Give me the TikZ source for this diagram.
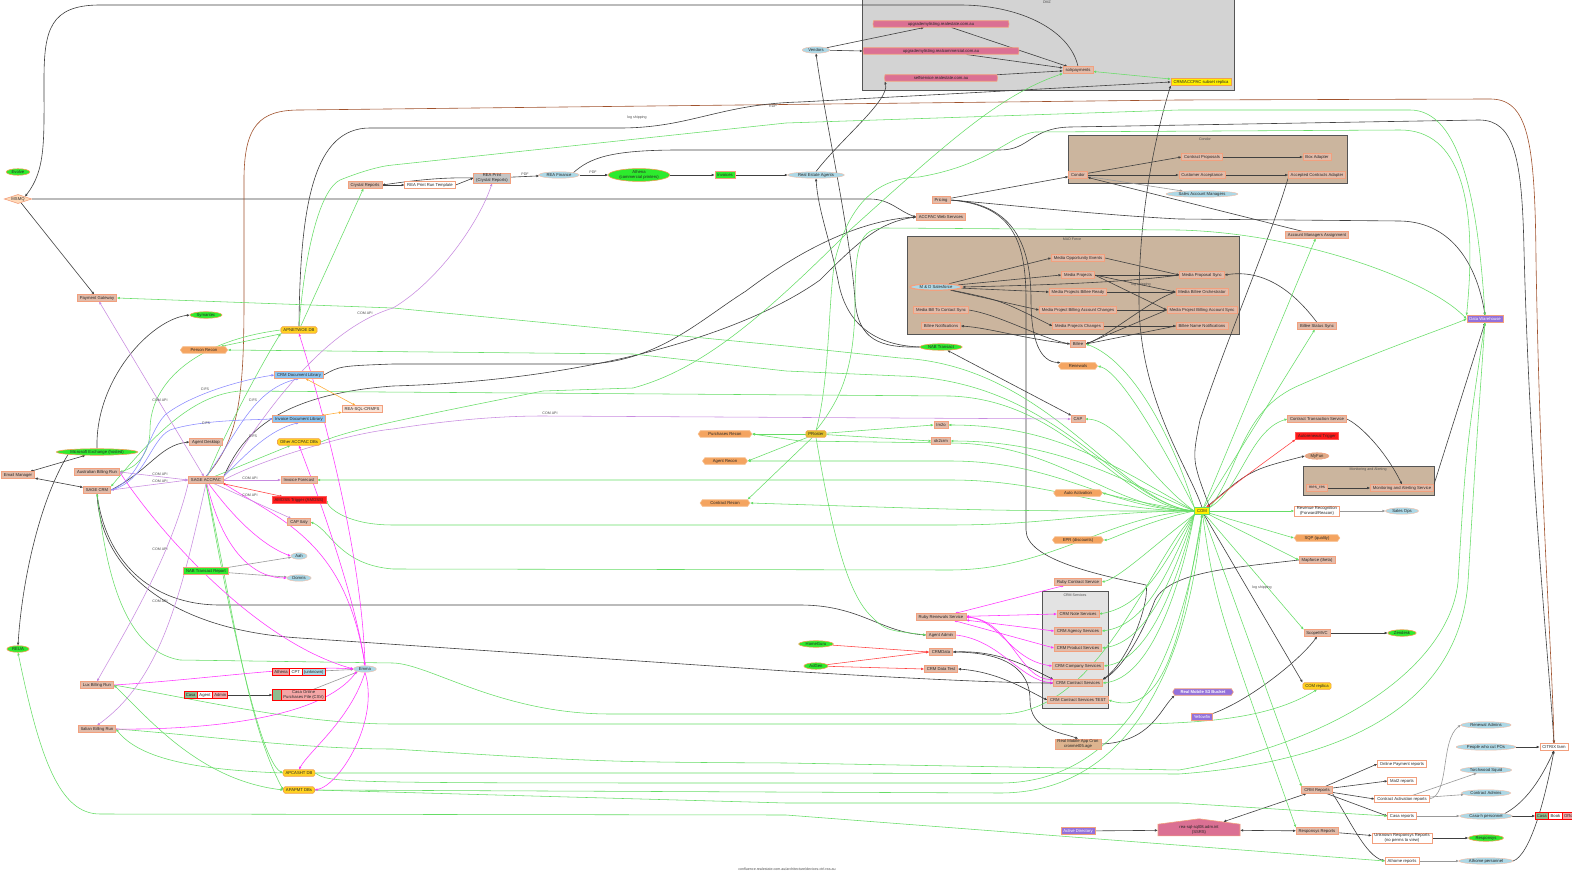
\documentclass[tikz,border=0pt]{standalone}
\usepackage{fontspec}
\setmainfont{Liberation Sans}
\usetikzlibrary{arrows.meta,shapes.geometric,shapes.symbols,shapes.multipart}
\pgfdeclarelayer{bg}
\pgfdeclarelayer{edgel}
\pgfsetlayers{bg,edgel,main}
\definecolor{salB}{HTML}{F2A07E}
\definecolor{peachF}{HTML}{E2BBA9}
\definecolor{peachL}{HTML}{FBE3D6}
\definecolor{silverF}{HTML}{C4C4C4}
\definecolor{limeF}{HTML}{2DEB2D}
\definecolor{skyF}{HTML}{8CC4F0}
\definecolor{lblueF}{HTML}{ADD8E6}
\definecolor{redF}{HTML}{FF1A1A}
\definecolor{redB}{HTML}{FF5555}
\definecolor{yelF}{HTML}{FFEE00}
\definecolor{goldF}{HTML}{FFD21F}
\definecolor{prosF}{HTML}{E2C02A}
\definecolor{orangeB}{HTML}{F0A050}
\definecolor{purpF}{HTML}{9370DB}
\definecolor{hexF}{HTML}{F4A460}
\definecolor{hexB}{HTML}{F8BC88}
\definecolor{pinkF}{HTML}{DB7093}
\definecolor{puffF}{HTML}{FFDAB9}
\definecolor{tanC}{HTML}{CBB59E}
\definecolor{grayC}{HTML}{D3D3D3}
\definecolor{svcC}{HTML}{E3E3E3}
\definecolor{clB}{HTML}{555555}
\definecolor{geC}{HTML}{66DD66}
\definecolor{meC}{HTML}{FF33FF}
\definecolor{peC}{HTML}{C88AE0}
\definecolor{bleC}{HTML}{8A8AFF}
\definecolor{oeC}{HTML}{FFAA33}
\definecolor{reC}{HTML}{FF4040}
\definecolor{brC}{HTML}{A0522D}
\definecolor{cronF}{HTML}{DDB48F}
\definecolor{funF}{HTML}{DEAA88}
\definecolor{casaG}{HTML}{8FBC8F}
\definecolor{casaP}{HTML}{F4A6A6}
\definecolor{athP}{HTML}{E9A0A0}
\tikzset{
 base/.style={font=\fontsize{4.2}{4.7}\selectfont, inner xsep=2.5pt, inner ysep=0.8pt, minimum height=6.5pt, line width=0.6pt, align=center, text=black!85},
 box/.style={base, rectangle, draw=salB, fill=peachF},
 wbox/.style={base, rectangle, draw=salB, fill=white},
 gbox/.style={base, rectangle, draw=salB, fill=limeF},
 graybox/.style={base, rectangle, draw=salB, fill=silverF},
 bbox/.style={base, rectangle, draw=salB, fill=skyF},
 rbox/.style={base, rectangle, draw=redB, fill=redF},
 ybox/.style={base, rectangle, draw=orangeB, fill=yelF},
 gold/.style={base, rectangle, rounded corners=1.5pt, draw=orangeB, fill=goldF},
 pbox/.style={base, rectangle, draw=salB, fill=purpF, text=white},
 ell/.style={base, ellipse, draw=salB!70, fill=lblueF, inner xsep=2pt, inner ysep=0.2pt, line width=0.4pt},
 gell/.style={base, ellipse, draw=orangeB, fill=limeF, inner xsep=2pt, inner ysep=0.2pt},
 hexa/.style={base, signal, signal to=east and west, signal pointer angle=110, draw=hexB, fill=hexF, inner xsep=8pt, inner ysep=1.2pt},
 pinkn/.style={base, signal, signal to=east and west, signal pointer angle=160, draw=salB, fill=pinkF, inner ysep=0.6pt},
 recn/.style={base, rectangle split, rectangle split horizontal, draw=red, line width=0.9pt, inner xsep=1.5pt},
 lbl/.style={font=\fontsize{3.6}{4}\selectfont, text=black!70, inner sep=0.5pt},
 tipA/.style={-{Triangle[length=2.8pt,width=2.2pt]}},
 tipB/.style={{Triangle[length=2.8pt,width=2.2pt]}-{Triangle[length=2.8pt,width=2.2pt]}},
 be/.style={tipA, draw=black!75, line width=0.6pt},
 gre/.style={tipA, draw=black!40, line width=0.6pt},
 ge/.style={tipA, draw=geC, line width=0.55pt},
 me/.style={tipA, draw=meC, line width=0.55pt},
 pe/.style={tipA, draw=peC, line width=0.55pt},
 ble/.style={tipA, draw=bleC, line width=0.55pt},
 oe/.style={tipA, draw=oeC, line width=0.55pt},
 re/.style={tipA, draw=reC, line width=0.55pt},
 bre/.style={tipA, draw=brC, line width=0.6pt},
 clus/.style={draw=clB, line width=0.8pt},
}
\begin{document}
\begin{tikzpicture}[x=1pt,y=-1pt]
\useasboundingbox (0,0) rectangle (1572,874);
% clusters
\begin{pgfonlayer}{bg}
\fill[white] (0,0) rectangle (1572,874);
\draw[clus, fill=grayC] (862,-5) rectangle (1234,90);
\draw[clus, fill=tanC] (1068,135) rectangle (1347,183);
\draw[clus, fill=tanC] (907,236) rectangle (1239,334);
\draw[clus, fill=tanC] (1303,466) rectangle (1434,495);
\draw[clus, fill=svcC] (1042,591) rectangle (1108,708);
\end{pgfonlayer}
\node[lbl] (dmzl) at (1047,2) {DMZ};
\node[lbl] (condorl) at (1205,139) {Condor};
\node[lbl] (madl) at (1072,239) {MAD Force};
\node[lbl] (monl) at (1368,470) {Monitoring and Alerting};
\node[lbl] (svcl) at (1075,595) {CRM Services};
% ---------- nodes: left
\node[gell] (evolve) at (18,172) {Evolve};
\node[base, diamond, aspect=3, draw=salB, fill=puffF, inner sep=0.4pt] (msmq) at (18,199) {MSMQ};
\node[box] (pg) at (97,298) {Payment Gateway};
\node[gell] (symantec) at (206,315) {Symantec};
\node[gold] (apnet) at (299,330) {APNETWOE DB};
\node[hexa] (precon2) at (204,350) {Person Recon};
\node[bbox] (crmdoc) at (299,375) {CRM Document Library};
\node[box, fill=peachL] (reasql) at (362,409) {REA-SQL-CRMFS};
\node[bbox] (invdoc) at (299,419) {Invoice Document Library};
\node[box] (agentdesk) at (206,442) {Agent Desktop};
\node[gold] (otheracc) at (299,442) {Other ACCPAC DBs};
\node[gell] (msx) at (97,452) {Microsoft Exchange (hosted)};
\node[box] (emailmgr) at (18,475) {Email Manager};
\node[box] (abr) at (97,472) {Australian Billing Run};
\node[box] (sagecrm) at (97,490) {SAGE CRM};
\node[box] (sageacc) at (206,480) {SAGE ACCPAC};
\node[box] (invfc) at (299,480) {Invoice Forecast};
\node[rbox] (amoss) at (299,500) {AMOSS Trigger (AMOSS)};
\node[box] (capitaly) at (299,522) {CAP Italy};
\node[ell] (aah) at (299,556) {Aah};
\node[ell] (domris) at (299,578) {Domris};
\node[gbox] (nabrep) at (206,571) {NAB Transact Report};
\node[gell] (reua) at (18,649) {REUA};
\node[box] (lux) at (97,685) {Lux Billing Run};
\node[box] (italian) at (97,729) {Italian Billing Run};
\node[ell] (emma) at (365,669) {Emma};
\node[recn, rectangle split parts=3, rectangle split part fill={athP,white,lblueF}] (athrec) at (299,672) {Athena\nodepart{two}CPT\nodepart{three}(unknown)};
\node[recn, rectangle split parts=3, rectangle split part fill={casaG,white,casaP}] (casarec) at (206,695) {Casa\nodepart{two}Agent\nodepart{three}Admin};
\node[recn, rectangle split parts=2, rectangle split part fill={casaG,casaP}] (casaonline) at (299,695) {\hspace{6pt}\nodepart{two}Casa Online\\Purchases File (CSV)};
\node[gold] (apcash) at (299,773) {APCASHT DB};
\node[gold] (apapmt) at (299,790) {APAPMT DBs};
% ---------- nodes: top
\node[box] (crystal) at (365,185) {Crystal Reports};
\node[wbox] (rptemplate) at (430,185) {REA Print Run Template};
\node[graybox] (reaprint) at (492,178) {REA Print\\(Crystal Reports)};
\node[ell] (reafin) at (559,175) {REA Finance};
\node[gell] (athena) at (639,175) {Athena\\(commercial printers)};
\node[gbox] (invoices) at (725,175) {Invoices};
\node[ell] (reagents) at (816,175) {Real Estate Agents};
\node[ell] (vendors) at (816,50) {Vendors};
\node[pinkn, minimum width=136pt] (up1) at (941,24) {upgrademylisting.realestate.com.au};
\node[pinkn, minimum width=156pt] (up2) at (941,51) {upgrademylisting.realcommercial.com.au};
\node[pinkn, minimum width=113pt] (selfs) at (941,78) {selfservice.realestate.com.au};
\node[box] (solr) at (1078,70) {solrpayments};
\node[ybox] (replica) at (1201,82) {CRM/ACCPAC subset replica};
\node[box] (pricing) at (941,200) {Pricing};
\node[box] (aws) at (941,217) {ACCPAC Web Services};
\node[box] (condor) at (1078,175) {Condor};
\node[box] (cprop) at (1202,157) {Contract Proposals};
\node[box] (boxad) at (1317,157) {Box Adapter};
\node[box] (custacc) at (1202,175) {Customer Acceptance};
\node[box] (accad) at (1317,175) {Accepted Contracts Adapter};
\node[ell] (sam) at (1202,194) {Sales Account Managers};
\node[box] (ama) at (1317,235) {Account Managers Assignment};
% MAD Force
\node[box] (moe) at (1078,258) {Media Opportunity Events};
\node[box] (mp) at (1078,275) {Media Projects};
\node[ell, line width=1.2pt, draw=salB] (mds) at (936,287) {M \& D Salesforce};
\node[box] (mps) at (1202,275) {Media Proposal Sync};
\node[box] (mpbr) at (1078,292) {Media Projects Billee Ready};
\node[box] (mbo) at (1202,292) {Media Billee Orchestrator};
\node[box] (mbtcs) at (941,310) {Media Bill To Contact Sync};
\node[box] (mpbac) at (1078,310) {Media Project Billing Account Changes};
\node[box] (mpbas) at (1202,310) {Media Project Billing Account Sync};
\node[box] (bn) at (941,326) {Billee Notifications};
\node[box] (mpc) at (1078,326) {Media Projects Changes};
\node[box] (bnn) at (1202,326) {Billee Name Notifications};
\node[box] (billee) at (1078,344) {Billee};
\node[box] (bss) at (1317,326) {Billee Status Sync};
\node[pbox] (dw) at (1485,319) {Data Warehouse};
\node[gell] (nab) at (941,347) {NAB Transact};
\node[hexa] (renewals) at (1078,366) {Renewals};
\node[box] (cap) at (1078,419) {CAP};
\node[box] (im2o) at (941,425) {Im2o};
\node[box] (ok2crm) at (941,441) {ok2crm};
\node[gold, fill=prosF] (proster) at (816,434) {PRoster};
\node[hexa] (precon) at (725,434) {Purchases Recon};
\node[hexa] (arecon) at (725,461) {Agent Recon};
\node[hexa] (crecon) at (725,503) {Contract Recon};
\node[hexa] (autoact) at (1078,493) {Auto Activation};
\node[hexa] (epr) at (1078,540) {EPR (discounts)};
\node[box] (rcs) at (1078,582) {Ruby Contract Service};
% right middle
\node[box] (cts) at (1317,419) {Contract Transaction Service};
\node[rbox] (art) at (1317,436) {Autorenewal Trigger};
\node[base, ellipse, draw=salB, fill=funF, inner xsep=2pt, inner ysep=0.2pt] (myfun) at (1317,456) {MyFun};
\node[box] (mesres) at (1317,488) {mes\_res};
\node[box] (mas) at (1402,488) {Monitoring and Alerting Service};
\node[ybox, draw=geC] (com) at (1202,511) {COM};
\node[wbox] (revrec) at (1317,511) {Revenue Recognition\\(Forward/Reacon)};
\node[ell] (salesops) at (1402,511) {Sales Ops};
\node[hexa] (sqp) at (1317,538) {SQP (quality)};
\node[box] (mapf) at (1317,560) {Mapforce (theta)};
% bottom middle
\node[box] (rrs) at (941,617) {Ruby Renewals Service};
\node[box] (agentadmin) at (941,635) {Agent Admin};
\node[gell] (homeguru) at (816,644) {HomeGuru};
\node[gell] (adgen) at (816,666) {AdGen};
\node[box] (crmdata) at (941,652) {CRMData};
\node[box] (crmdatatest) at (941,669) {CRM Data Test};
\node[box] (crmnote) at (1078,614) {CRM Note Services};
\node[box] (crmagency) at (1078,631) {CRM Agency Services};
\node[box] (crmprod) at (1078,648) {CRM Product Services};
\node[box] (crmcomp) at (1078,666) {CRM Company Services};
\node[box] (crmcontract) at (1078,683) {CRM Contract Services};
\node[box] (crmtest) at (1078,700) {CRM Contract Services TEST};
\node[box, fill=cronF] (rmcron) at (1078,744) {Real Mobile App Cron\\cronmet05.age};
\node[pbox] (ad) at (1078,831) {Active Directory};
% bottom right
\node[box] (scopemvc) at (1317,633) {ScopeMVC};
\node[gell] (zendesk) at (1402,633) {Zendesk};
\node[gold] (comrep) at (1317,686) {COM replica};
\node[base, signal, signal to=east and west, signal pointer angle=120, draw=salB, fill=purpF, text=white, font=\fontsize{4.2}{4.7}\selectfont\bfseries, inner xsep=6pt] (rms3) at (1203,692) {Real Mobile S3 Bucket};
\node[pbox] (yellowfin) at (1202,717) {Yellowfin};
\node[ell] (renadm) at (1486,725) {Renewal Admins};
\node[ell] (pcpo) at (1486,747) {People who cut POs};
\node[wbox] (citrix) at (1554,747) {CITRIX farm};
\node[wbox] (opr) at (1402,764) {Online Payment reports};
\node[wbox] (mat2) at (1402,781) {Mat2 reports};
\node[ell] (torch) at (1486,770) {Torchwood Squid};
\node[box] (crmrep) at (1317,790) {CRM Reports};
\node[wbox] (car) at (1402,799) {Contract Activation reports};
\node[ell] (cadm) at (1486,793) {Contract Admins};
\node[wbox] (casarep) at (1402,816) {Casa reports};
\node[ell] (casah) at (1486,816) {Casa-h personnel};
\node[recn, rectangle split parts=3, rectangle split part fill={casaG,white,casaP}, anchor=west] (cbo) at (1535,816) {Casa\nodepart{two}Book\nodepart{three}Office};
\node[base, signal, signal to=north, signal from=nowhere, signal pointer angle=165, draw=salB, fill=pinkF, minimum width=82pt, inner ysep=1.5pt] (ssrs) at (1199,830) {rea-sql-sql08.adm.int\\(SSRS)};
\node[box] (respr) at (1317,831) {Responsys Reports};
\node[wbox] (unkr) at (1402,838) {Unknown Responsys Reports\\(no perms to view)};
\node[gell] (responsys) at (1486,838) {Responsys};
\node[wbox] (athr) at (1402,861) {Athome reports};
\node[ell] (athp) at (1486,861) {Athome personnel};
\node[lbl] (footer) at (787,869) {confluence.realestate.com.au/architecture/devices-ctrl.rea.au};
% edge labels
\node[lbl] (l1) at (773,106) {RDP};
\node[lbl] (l2) at (637,118) {log shipping};
\node[lbl] (l3) at (1141,285) {log shipping};
\node[lbl] (l4) at (1262,588) {log shipping};
\node[lbl] (l5) at (525,174) {PDF};
\node[lbl] (l6) at (593,172) {PDF};
\node[lbl] (l7) at (365,313) {COM API};
\node[lbl] (l8) at (160,400) {COM API};
\node[lbl] (l9) at (205,389) {CIFS};
\node[lbl] (l10) at (253,400) {CIFS};
\node[lbl] (l11) at (206,423) {CIFS};
\node[lbl] (l12) at (253,436) {CIFS};
\node[lbl] (l13) at (160,474) {COM API};
\node[lbl] (l14) at (160,481) {COM API};
\node[lbl] (l15) at (250,478) {COM API};
\node[lbl] (l16) at (250,495) {COM API};
\node[lbl] (l17) at (160,549) {COM API};
\node[lbl] (l18) at (160,601) {COM API};
\node[lbl] (l19) at (550,413) {COM API};
% ---------- edges
\begin{pgfonlayer}{edgel}
% black
\draw[be] (solr.north) .. controls (1070,30) and (1020,5) .. (960,5) -- (100,5) .. controls (50,5) and (44,30) .. (44,80) .. controls (44,140) and (46,170) .. (msmq.north east);
\draw[be] (msmq.east) -- (870,199) .. controls (890,199) and (900,212) .. (aws.west);
\draw[be] (msmq) -- (pg);
\draw[be] (reaprint.west) .. controls (440,177) and (410,181) .. (crystal.east);
\draw[be] (crystal.east) -- (rptemplate.west);
\draw[be] (rptemplate.east) -- (reaprint.west);
\draw[be] (reaprint) -- (reafin);
\draw[be] (reafin) -- (athena);
\draw[be] (athena) -- (invoices);
\draw[be] (invoices) -- (reagents);
\draw[be] (reafin.north east) .. controls (590,158) and (610,150) .. (680,150) -- (1000,150) .. controls (1030,150) and (1030,128) .. (1070,127) -- (1479,120) .. controls (1515,120) and (1522,160) .. (1524,250) .. controls (1530,480) and (1548,650) .. (citrix.north);
\draw[bre] (sageacc.north) .. controls (238,440) and (244,400) .. (244,300) -- (244,180) .. controls (244,125) and (260,110) .. (300,110) -- (1179,100) -- (1490,99) .. controls (1528,99) and (1535,140) .. (1536,260) .. controls (1540,500) and (1552,650) .. (citrix.north);
\draw[be] (apnet.north) .. controls (300,200) and (315,128) .. (370,128) -- (620,128) .. controls (690,128) and (720,104) .. (800,102) -- (replica.west);
\draw[be] (reagents.north) .. controls (840,140) and (890,100) .. (selfs.south west);
\draw[be] (vendors) -- (up1);
\draw[be] (vendors) -- (up2.west);
\draw[be] (up1) -- (solr);
\draw[be] (up2) -- (solr);
\draw[be] (selfs) -- (solr);
\draw[ge,tipB] (solr) -- (replica);
\draw[be] (pricing) -- (condor);
\draw[be] (condor) -- (cprop.west);
\draw[be] (condor) -- (custacc);
\draw[be] (cprop) -- (boxad);
\draw[be] (custacc) -- (accad);
\draw[gre] (condor) -- (sam);
\draw[be] (ama) -- (condor);
\draw[be] (pricing.east) .. controls (1010,205) and (1100,215) .. (1179,219) -- (1400,221) .. controls (1455,222) and (1478,270) .. (dw.north);
\draw[be] (pricing.east) .. controls (1010,203) and (1031,240) .. (1031,300) .. controls (1031,340) and (1040,362) .. (renewals.north west);
\draw[be] (pricing.east) .. controls (1012,205) and (1026,240) .. (1026,300) -- (1026,530) .. controls (1026,560) and (1100,575) .. (1146,585) .. controls (1150,600) and (1130,660) .. (crmcontract.north east);
\draw[be] (com.north) .. controls (1190,470) and (1139,400) .. (1139,300) .. controls (1139,200) and (1160,120) .. (replica.south west);
\draw[be] (accad.south west) .. controls (1270,240) and (1230,330) .. (1200,420) .. controls (1192,460) .. (com.north east);
\draw[be] (mds) -- (moe.west);
\draw[be] (mds) -- (mp.west);
\draw[be] (mds) -- (mpbr.west);
\draw[be] (mds) -- (mpbac.west);
\draw[be] (mds) .. controls (1000,300) .. (mpc.west);
\draw[be] (mps.west) .. controls (1130,282) and (1050,285) .. (mds.east);
\draw[be] (moe.east) -- (mps.west);
\draw[be] (mp) -- (mps);
\draw[be] (mp.east) -- (mbo.west);
\draw[be] (mp.east) -- (mpbas.west);
\draw[be] (mpbr) -- (mbo);
\draw[be] (mpbac) -- (mpbas);
\draw[be] (mpc) -- (bnn);
\draw[be] (mbtcs.east) .. controls (1000,315) and (1040,338) .. (billee.west);
\draw[be] (billee.west) .. controls (1020,338) and (990,328) .. (bn.east);
\draw[be] (mbo.west) .. controls (1150,300) and (1110,335) .. (billee.east);
\draw[be] (mpbas.west) -- (billee.east);
\draw[be] (bnn.west) -- (billee.east);
\draw[be] (bss.north) .. controls (1300,300) and (1270,268) .. (mps.east);
\draw[be] (nab.west) .. controls (880,348) and (858,340) .. (855,300) .. controls (850,230) and (825,120) .. (vendors.south);
\draw[be] (nab.west) .. controls (870,345) and (845,320) .. (838,280) .. controls (830,240) and (818,210) .. (reagents.south);
\draw[be,tipB] (nab) -- (cap);
\draw[be] (com) .. controls (1250,470) .. (myfun.west);
\draw[be] (cts.east) .. controls (1360,425) and (1385,450) .. (mas.north);
\draw[be] (mesres) -- (mas);
\draw[be] (mas.north east) -- (dw.south);
\draw[be] (com) -- (comrep.north west);
\draw[be] (mapf.west) .. controls (1230,568) and (1170,572) .. (1155,600) .. controls (1140,640) and (1120,670) .. (crmcontract.north east);
\draw[be] (sagecrm.south) .. controls (105,560) and (150,605) .. (220,605) -- (800,605) .. controls (860,605) and (880,632) .. (agentadmin.west);
\draw[be] (sagecrm.south) .. controls (100,570) and (170,630) .. (300,638) -- (786,671) .. controls (900,678) and (1000,683) .. (crmcontract.west);
\draw[be,tipB] (crmdata.east) .. controls (1000,650) and (1030,668) .. (crmcontract.north west);
\draw[be,tipB] (crmdatatest.east) .. controls (1000,672) and (1030,692) .. (crmtest.west);
\draw[be] (crmdata.east) .. controls (1020,652) and (1030,680) .. (1030,700) .. controls (1030,730) and (1060,732) .. (rmcron.north);
\draw[be] (rmcron.east) .. controls (1150,742) and (1160,710) .. (rms3.south west);
\draw[be] (yellowfin.north east) .. controls (1250,700) and (1300,660) .. (scopemvc.south);
\draw[be] (scopemvc) -- (zendesk);
\draw[be] (ad) -- (ssrs);
\draw[be,tipB] (ssrs) -- (crmrep);
\draw[be,tipB] (ssrs) -- (respr);
\draw[be] (crmrep) -- (opr.west);
\draw[be] (crmrep) -- (mat2.west);
\draw[be] (crmrep) -- (car.west);
\draw[be] (crmrep) -- (casarep.west);
\draw[be] (crmrep.south east) .. controls (1350,820) and (1365,855) .. (athr.west);
\draw[be] (respr) -- (unkr);
\draw[be] (unkr) -- (responsys);
\draw[gre] (car.east) .. controls (1450,795) and (1440,740) .. (renadm.west);
\draw[gre] (car) -- (torch);
\draw[gre] (car) -- (cadm);
\draw[gre] (casarep) -- (casah);
\draw[gre] (athr) -- (athp);
\draw[gre] (revrec) -- (salesops);
\draw[be] (pcpo) -- (citrix);
\draw[be] (casah) -- (cbo);
\draw[be] (casah.north east) .. controls (1530,800) and (1545,770) .. (citrix.south);
\draw[be] (athp.east) .. controls (1530,855) and (1545,800) .. (citrix.south);
\draw[be,tipB] (emailmgr) -- (msx);
\draw[be,tipB] (emailmgr) -- (sagecrm);
\draw[be] (msx.north) .. controls (95,380) and (150,320) .. (symantec.west);
\draw[be] (msx.south west) .. controls (40,500) and (22,580) .. (reua.north);
\draw[be] (sagecrm.east) .. controls (150,470) and (160,445) .. (agentdesk.west);
\draw[be] (sageacc.north east) .. controls (240,440) and (270,395) .. (393,386) .. controls (600,380) and (750,330) .. (820,280) .. controls (860,240) and (880,222) .. (aws.west);
\draw[be] (crmdoc.east) .. controls (340,366) .. (393,364) -- (590,364) .. controls (660,360) and (700,320) .. (746,291) .. controls (800,250) and (860,220) .. (aws.west);
\draw[gre] (nabrep) -- (aah);
\draw[gre] (nabrep) -- (domris);
\draw[be] (casarec) -- (casaonline);
\draw[gre] (casaonline) -- (emma);
\draw[gre] (athrec) -- (emma);
% green from COM (right side)
\draw[ge] (com.north east) .. controls (1240,470) and (1240,410) .. (1300,385) .. controls (1380,350) and (1440,330) .. (dw.west);
\draw[ge] (com) -- (ama);
\draw[ge] (com) -- (bss);
\draw[ge] (com.north west) .. controls (1170,430) and (1130,360) .. (billee.east);
\draw[ge] (com.north west) .. controls (1160,440) and (1120,372) .. (renewals.east);
\draw[ge] (com.west) .. controls (1150,480) and (1120,420) .. (cap.east);
\draw[ge] (com.west) .. controls (1120,470) and (1060,425) .. (im2o.east);
\draw[ge] (com.west) .. controls (1120,480) and (1060,441) .. (ok2crm.east);
\draw[ge] (com.west) .. controls (1150,505) and (1110,495) .. (autoact.east);
\draw[ge] (com.west) .. controls (1150,520) and (1110,540) .. (epr.east);
\draw[ge] (com.south west) .. controls (1160,540) and (1120,578) .. (rcs.east);
\draw[ge] (com.south west) .. controls (1170,550) and (1150,605) .. (crmnote.east);
\draw[ge] (com.south west) .. controls (1172,560) and (1150,625) .. (crmagency.east);
\draw[ge] (com.south west) .. controls (1175,570) and (1150,642) .. (crmprod.east);
\draw[ge] (com.south west) .. controls (1178,580) and (1150,660) .. (crmcomp.east);
\draw[ge] (com.south west) .. controls (1180,590) and (1150,678) .. (crmcontract.east);
\draw[ge] (com.south) .. controls (1185,610) and (1170,720) .. (crmtest.east);
\draw[ge] (com.north east) .. controls (1240,490) and (1250,430) .. (cts.west);
\draw[re,tipB] (com) .. controls (1240,480) .. (art.south west);
\draw[ge] (com) -- (revrec);
\draw[ge] (com) -- (sqp.west);
\draw[ge] (com) -- (mapf.west);
\draw[ge] (com) -- (scopemvc.north west);
\draw[ge] (com) -- (crmrep.north west);
\draw[ge] (com) .. controls (1215,600) .. (respr.north west);
% green from COM (left side)
\draw[ge] (com.west) .. controls (1120,505) and (1050,365) .. (900,358) -- (786,346) -- (393,308) -- (pg.east);
\draw[ge] (com.west) .. controls (1120,505) and (1060,380) .. (900,376) -- (786,371) -- (633,354) -- (precon2.east);
\draw[ge] (com.west) .. controls (1120,508) and (1070,400) .. (950,396) -- (240,391) .. controls (190,395) and (150,440) .. (sagecrm.north east);
\draw[ge] (com.west) .. controls (1110,510) and (1060,443) .. (950,443) -- (800,441) -- (precon.east);
\draw[ge] (com.west) .. controls (1110,510) and (1060,461) .. (950,461) -- (arecon.east);
\draw[ge] (com.west) .. controls (1100,511) and (1050,480) .. (950,480) -- (invfc.east);
\draw[ge] (com.west) .. controls (1000,511) .. (crecon.east);
\draw[ge] (com.west) .. controls (1100,511) and (1050,525) .. (950,525) -- (393,525) .. controls (350,525) and (330,510) .. (amoss.east);
\draw[ge] (com.west) .. controls (1110,515) and (1050,570) .. (950,570) -- (393,569) .. controls (340,565) and (330,530) .. (capitaly.east);
\draw[ge] (com.south west) .. controls (1150,560) and (1100,714) .. (1000,714) -- (610,714) .. controls (500,714) and (430,664) .. (393,663) -- (180,660) .. controls (120,650) and (105,560) .. (sagecrm.south);
\draw[ge] (lux.east) .. controls (200,700) and (300,724) .. (393,724) -- (1000,724) .. controls (1150,724) and (1250,730) .. (comrep.south);
\draw[ge] (italian.east) .. controls (200,735) and (300,749) .. (393,749) .. controls (600,762) .. (786,763) -- (1179,770) .. controls (1350,740) and (1450,660) .. (1458,582) .. controls (1466,450) .. (dw.south);
\draw[ge] (apcash.east) -- (786,773) -- (1179,774) .. controls (1370,760) and (1460,690) .. (1468,582) .. controls (1476,450) .. (dw.south);
\draw[ge] (apcash.east) .. controls (330,783) .. (786,783) -- (1000,783) .. controls (1150,783) and (1190,600) .. (com.south);
\draw[ge] (apapmt.east) -- (1000,793) .. controls (1160,793) and (1195,600) .. (com.south);
\draw[ge] (apapmt.east) -- (786,803) -- (1179,803) -- (casarep.west);
\draw[ge,tipB] (reua.south) .. controls (40,760) and (60,814) .. (100,814) -- (786,815) -- (athr.west);
% green PRoster
\draw[ge] (proster.north) .. controls (840,400) and (855,370) .. (855,300) .. controls (855,245) and (860,228) .. (885,228) -- (1179,230) .. controls (1300,233) and (1430,280) .. (dw.west);
\draw[ge] (proster.north) .. controls (830,380) and (828,300) .. (835,260) .. controls (850,200) and (880,178) .. (919,177) .. controls (990,165) and (1010,135) .. (1035,132) -- (1400,130) .. controls (1460,130) and (1478,200) .. (dw.north west);
\draw[ge] (proster) -- (im2o.west);
\draw[ge] (proster) -- (ok2crm.west);
\draw[ge] (proster) -- (precon.east);
\draw[ge] (proster) -- (arecon.east);
\draw[ge] (proster) -- (crecon.north east);
\draw[ge] (proster.south) .. controls (830,520) and (845,590) .. (870,615) .. controls (885,630) .. (agentadmin.west);
% green APNET / SAGE
\draw[ge] (apnet.north) .. controls (305,250) and (320,190) .. (340,180) .. controls (360,172) and (380,166) .. (393,165) -- (786,123) -- (1179,110) -- (1410,110) .. controls (1460,110) and (1478,200) .. (dw.north);
\draw[ge] (apnet) -- (crystal);
\draw[ge] (apnet) -- (precon2);
\draw[ge] (apnet.west) .. controls (200,340) and (150,380) .. (150,430) .. controls (150,455) and (135,468) .. (abr.east);
\draw[ge] (sageacc) .. controls (230,420) and (270,350) .. (apnet.south west);
\draw[ge] (sageacc) -- (otheracc);
\draw[ge] (otheracc.east) .. controls (350,430) and (393,421) .. (543,391) -- (633,388) .. controls (700,370) and (760,320) .. (850,230) .. controls (950,140) and (1000,95) .. (solr.south west);
\draw[ge] (sageacc.south) .. controls (235,620) and (247,722) .. (apapmt.west);
\draw[ge] (sageacc.south) .. controls (230,620) and (260,760) .. (apcash.west);
\draw[ge] (apcash.west) .. controls (200,770) and (140,760) .. (italian.east);
\draw[ge,tipB] (apapmt.west) .. controls (200,780) and (150,720) .. (lux.east);
% magenta
\draw[me] (sageacc) .. controls (250,540) and (280,552) .. (aah.west);
\draw[me] (sageacc) .. controls (225,560) and (260,578) .. (domris.west);
\draw[me] (sageacc.south east) .. controls (280,520) and (345,540) .. (emma.north);
\draw[me] (abr.east) .. controls (150,520) and (250,640) .. (emma.west);
\draw[me] (emma.north) .. controls (362,550) and (320,400) .. (apnet.south);
\draw[me] (emma.north) .. controls (356,600) and (320,500) .. (otheracc.south);
\draw[me] (lux.east) .. controls (200,680) and (300,665) .. (emma.west);
\draw[me] (italian.east) .. controls (200,730) and (320,720) .. (emma.south west);
\draw[me] (emma.south) .. controls (350,720) and (310,750) .. (apcash.north);
\draw[me] (emma.south) .. controls (380,720) and (340,785) .. (apapmt.east);
\draw[me,tipB] (rrs) -- (rcs);
\draw[me,tipB] (rrs) -- (crmnote.west);
\draw[me,tipB] (rrs) -- (crmagency.west);
\draw[me,tipB] (rrs) -- (crmprod.west);
\draw[me,tipB] (rrs.east) .. controls (1000,620) and (1010,660) .. (crmcomp.west);
\draw[me,tipB] (rrs.east) .. controls (1010,620) and (1020,680) .. (crmcontract.north west);
\draw[me] (agentadmin.east) .. controls (1000,640) and (1020,680) .. (crmcontract.west);
% purple COM API
\draw[pe,tipB] (pg) -- (sageacc);
\draw[pe,tipB] (abr.east) -- (sageacc.west);
\draw[pe,tipB] (sagecrm.east) -- (sageacc.west);
\draw[pe] (sageacc) -- (invfc);
\draw[pe] (sageacc) -- (capitaly);
\draw[pe] (sageacc.south west) .. controls (170,560) and (120,640) .. (lux.north);
\draw[pe] (sageacc.south) .. controls (180,600) and (160,680) .. (italian.north);
\draw[pe] (sageacc.north east) .. controls (260,420) and (320,330) .. (393,308) .. controls (440,280) and (480,220) .. (reaprint.south);
\draw[pe] (sageacc.east) .. controls (260,460) and (350,433) .. (393,429) .. controls (450,420) and (500,416) .. (543,416) -- (cap.west);
% blue CIFS
\draw[ble] (sagecrm.east) .. controls (143,478) and (147,434) .. (165,415) .. controls (190,395) and (240,380) .. (crmdoc.west);
\draw[ble] (sagecrm.east) .. controls (145,482) and (150,440) .. (170,430) .. controls (200,420) and (250,420) .. (invdoc.west);
\draw[ble] (sageacc.north) .. controls (235,440) and (250,390) .. (crmdoc.south);
\draw[ble] (sageacc.north east) .. controls (250,450) and (270,430) .. (invdoc.south);
% orange / red
\draw[oe,tipB] (crmdoc) -- (reasql);
\draw[oe,tipB] (reasql) -- (invdoc);
\draw[re,tipB] (sageacc) -- (amoss);
\draw[re] (homeguru) -- (crmdata.west);
\draw[re] (adgen) -- (crmdata.west);
\draw[re] (adgen) -- (crmdatatest.west);
\end{pgfonlayer}
\end{tikzpicture}
\end{document}
